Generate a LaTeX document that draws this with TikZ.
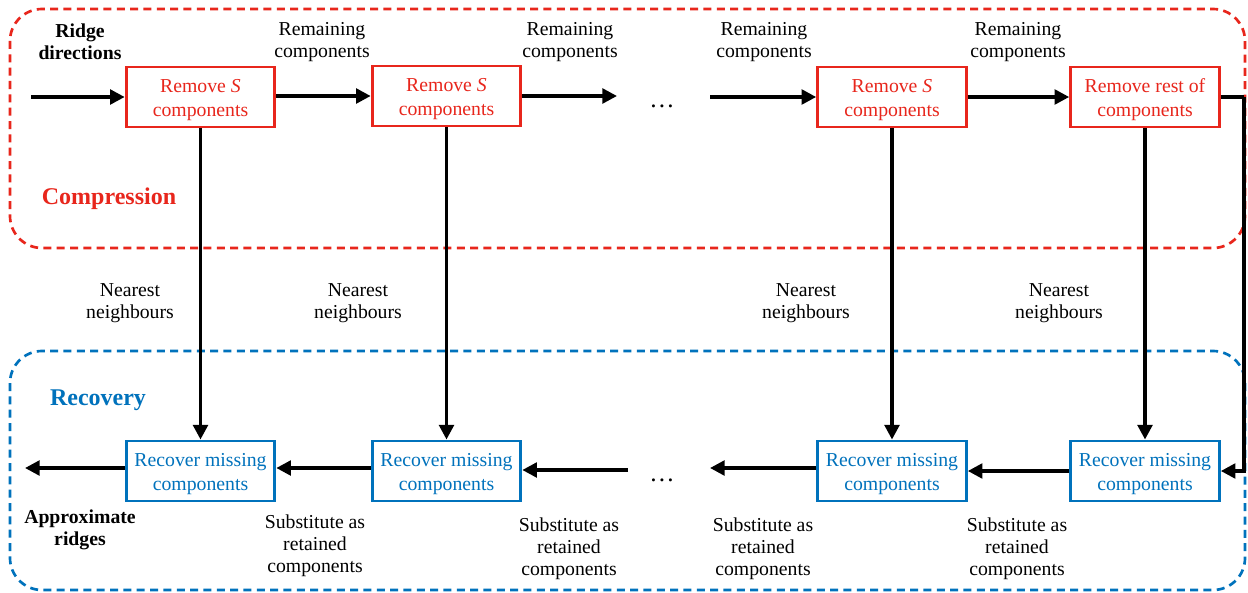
\documentclass[tikz,border=0pt]{standalone}
\usepackage{fontspec}
\setmainfont{Liberation Serif}
\usetikzlibrary{arrows.meta}
\definecolor{cred}{RGB}{232,38,28}
\definecolor{cblue}{RGB}{0,114,188}
\newcommand{\myfont}{\fontsize{14.8}{16.5}\selectfont}
\newcommand{\boxfont}{\fontsize{14.8}{18}\selectfont}
\newcommand{\bt}[2]{\raisebox{-2.2pt}[\height][\depth]{\begin{tabular}{@{}c@{}}#1\\#2\end{tabular}}}
\tikzset{
  lbl/.style={align=center,font=\myfont,inner sep=0pt},
  rbox/.style={draw=cred,line width=2.2pt,text=cred,minimum width=111.5pt,minimum height=45pt,font=\boxfont,inner sep=0pt},
  bbox/.style={draw=cblue,line width=2.2pt,text=cblue,minimum width=111.5pt,minimum height=45pt,font=\boxfont,inner sep=0pt},
  arr/.style={line width=2.6pt,-{Triangle[length=11pt,width=11pt]}},
  region/.style={line width=2pt,dash pattern=on 6pt off 4pt,rounded corners=24pt},
}
\begin{document}
\begin{tikzpicture}[x=0.75pt,y=-0.75pt]
\useasboundingbox (0,0) rectangle (1248,592);
\fill[white] (0,0) rectangle (1248,592);
% regions
\draw[region,cred] (10,9) rectangle (1245,248);
\draw[region,cblue] (10,351) rectangle (1245,590);
% boxes
\node[rbox] (r1) at (200.5,97) {\bt{Remove \textit{S}}{components}};
\node[rbox] (r2) at (446.5,96) {\bt{Remove \textit{S}}{components}};
\node[rbox] (r3) at (892,97) {\bt{Remove \textit{S}}{components}};
\node[rbox] (r4) at (1145,97) {\bt{Remove rest of}{components}};
\node[bbox] (b1) at (200.5,471) {\bt{Recover missing}{components}};
\node[bbox] (b2) at (446.5,471) {\bt{Recover missing}{components}};
\node[bbox] (b3) at (892,471) {\bt{Recover missing}{components}};
\node[bbox] (b4) at (1145,471) {\bt{Recover missing}{components}};
% dots
\node[lbl,font=\fontsize{19}{20}\selectfont] (d1) at (662,106) {\dots};
\node[lbl,font=\fontsize{19}{20}\selectfont] (d2) at (662,480) {\dots};
% coordinates
\coordinate (in) at (31,97);
\coordinate (out) at (25,468);
\coordinate (t2) at (617,97);
\coordinate (t3) at (710,97);
\coordinate (u2) at (628,470);
\coordinate (u3) at (710,468);
\coordinate (edge) at (1244,97);
% top chain
\draw[arr] (in) -- (in -| r1.west);
\draw[arr] (r1.east |- r2) -- (r2.west);
\draw[arr] (r2.east) -- (r2.east -| t2);
\draw[arr] (t3) -- (t3 -| r3.west);
\draw[arr] (r3.east) -- (r4.west);
\draw[line width=2.6pt] (r4.east) -- (edge);
\draw[arr] (edge) |- (b4.east);
% verticals
\draw[arr] (r1.south) -- (b1.north);
\draw[arr] (r2.south) -- (b2.north);
\draw[arr] (r3.south) -- (b3.north);
\draw[arr] (r4.south) -- (b4.north);
% bottom chain
\draw[arr] (b4.west) -- (b3.east);
\draw[arr] (b3.west |- u3) -- (u3);
\draw[arr] (u2) -- (u2 -| b2.east);
\draw[arr] (b2.west |- out) -- (b1.east |- out);
\draw[arr] (b1.west |- out) -- (out);
% labels
\node[lbl,font=\myfont\bfseries] (l0) at (80,42) {Ridge\\directions};
\node[lbl] (l1) at (322,42) {Remaining\\components};
\node[lbl] (l2) at (570,42) {Remaining\\components};
\node[lbl] (l3) at (764,42) {Remaining\\components};
\node[lbl] (l4) at (1018,42) {Remaining\\components};
\node[lbl,text=cred,font=\fontsize{18}{20}\selectfont\bfseries] (comp) at (109,199) {Compression};
\node[lbl,text=cblue,font=\fontsize{18}{20}\selectfont\bfseries] (rec) at (98,400) {Recovery};
\node[lbl] (n1) at (130,303) {Nearest\\neighbours};
\node[lbl] (n2) at (358,303) {Nearest\\neighbours};
\node[lbl] (n3) at (806,303) {Nearest\\neighbours};
\node[lbl] (n4) at (1059,303) {Nearest\\neighbours};
\node[lbl,font=\myfont\bfseries] (ar) at (80,530) {Approximate\\ridges};
\node[lbl] (s1) at (315,546) {Substitute as\\retained\\components};
\node[lbl] (s2) at (569,549) {Substitute as\\retained\\components};
\node[lbl] (s3) at (763,549) {Substitute as\\retained\\components};
\node[lbl] (s4) at (1017,549) {Substitute as\\retained\\components};
\end{tikzpicture}
\end{document}
